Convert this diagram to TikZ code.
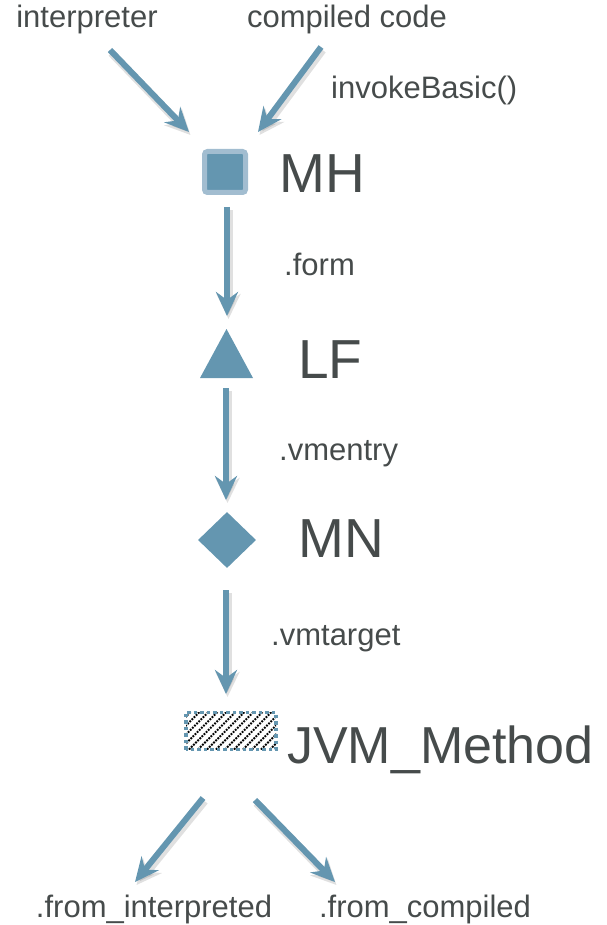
\documentclass[tikz,border=0pt]{standalone}
\usepackage{fontspec}
\setmainfont{Liberation Sans}
\usetikzlibrary{arrows.meta,shapes.geometric}
\definecolor{steel}{HTML}{6496B0}
\definecolor{steellight}{HTML}{A2BDD0}
\definecolor{txt}{HTML}{464B4B}
\tikzset{
  lbl/.style={inner sep=0pt, text=txt, font=\fontsize{31}{31}\selectfont},
  big/.style={inner sep=0pt, text=txt, font=\fontsize{55}{55}\selectfont},
  arr/.style={draw=steel, line width=6pt, -{Stealth[length=24pt,width=22pt,inset=8pt]}},
  arrshadow/.style={draw=black, opacity=0.12, line width=8pt, -{Stealth[length=25pt,width=24pt,inset=8pt]}, transform canvas={shift={(1.5pt,-3pt)}}},
  hatch/.style={draw=black, line width=2pt, dash pattern=on 1.8pt off 1.2pt},
}
\newcommand\conn[2]{\draw[arrshadow] (#1) -- (#2); \draw[arr] (#1) -- (#2);}
\begin{document}
\begin{tikzpicture}[x=1pt,y=-1pt]
\useasboundingbox (0,0) rectangle (606,925);
% texts
\node[lbl, anchor=base] (interp) at (87,28) {interpreter};
\node[lbl, anchor=base] (compiled) at (347,28) {compiled code};
\node[lbl, anchor=base west] (invoke) at (331,99) {invokeBasic()};
\node[big, anchor=base west] (MH) at (279,193) {MH};
\node[lbl, anchor=base west] (form) at (284,275) {.form};
\node[big, anchor=base west] (LF) at (298,378) {LF};
\node[lbl, anchor=base west] (vmentry) at (279,460) {.vmentry};
\node[big, anchor=base west] (MN) at (298,557) {MN};
\node[lbl, anchor=base west] (vmtarget) at (271,645) {.vmtarget};
\node[big, anchor=base west, font=\fontsize{52}{52}\selectfont] (JVM) at (287,763) {JVM\_Method};
\node[lbl, anchor=base] (fromi) at (154,917) {.from\_interpreted};
\node[lbl, anchor=base] (fromc) at (425,917) {.from\_compiled};
% shapes
\node[draw=steellight, fill=steel, line width=5pt, rounded corners=3pt, minimum size=41pt, inner sep=0pt] (MHs) at (225,172) {};
\fill[steel] (200,378) -- (226.5,329) -- (253,378) -- cycle;
\node[inner sep=0pt, minimum width=53pt, minimum height=49pt] (LFs) at (226.5,353.5) {};
\node[diamond, fill=steel, inner sep=0pt, minimum width=58pt, minimum height=56pt] (MNs) at (227,540) {};
\node[inner sep=0pt, minimum width=90pt, minimum height=37pt,
  path picture={\foreach \i in {-60,-51,...,100}
    \draw[hatch] ([xshift=\i pt]path picture bounding box.south west) -- ++(60pt,60pt);}] (JVMs) at (231,731) {};
\draw[steel, line width=3.5pt, dash pattern=on 3.5pt off 3pt] (JVMs.south west) rectangle (JVMs.north east);
% connector ends
\coordinate (a1s) at (110,50);  \coordinate (a1e) at (189,132);
\coordinate (a2s) at (321,47);  \coordinate (a2e) at (258,132);
\coordinate (a3s) at (227,207); \coordinate (a3e) at (227,316);
\coordinate (a4s) at (226,388); \coordinate (a4e) at (226,500);
\coordinate (a5s) at (226,590); \coordinate (a5e) at (226,694);
\coordinate (a6s) at (203,798); \coordinate (a6e) at (135,882);
\coordinate (a7s) at (255,800); \coordinate (a7e) at (335,882);
\conn{a1s}{a1e}
\conn{a2s}{a2e}
\conn{a3s}{a3e}
\conn{a4s}{a4e}
\conn{a5s}{a5e}
\conn{a6s}{a6e}
\conn{a7s}{a7e}
\end{tikzpicture}
\end{document}
